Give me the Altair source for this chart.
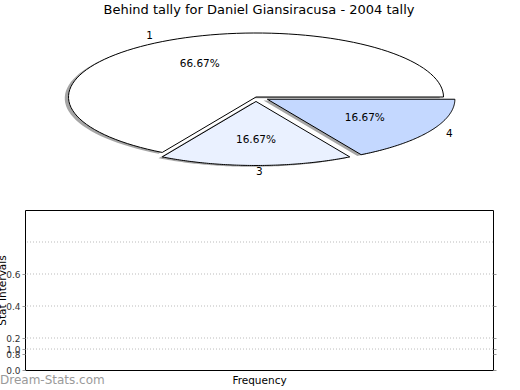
import altair as alt
import pandas as pd

# ---- data ----
slice_labels = ["1", "3", "4"]
slice_counts = [4, 1, 1]
slice_colors = ["#ffffff", "#eaf1ff", "#c4d8ff"]
slice_explode = [0.0, 0.07, 0.07]

title_text = "Behind tally for Daniel Giansiracusa - 2004 tally"
x_title = "Frequency"
y_title = "Stat Intervals"
watermark = "Dream-Stats.com"

y_tick_values = [0.0, 0.1, 0.131, 0.2, 0.4, 0.6]
y_tick_labels = ["0.0", "0.8", "1.0", "0.2", "0.4", "0.6"]
y_grid_values = [0.131, 0.2, 0.4, 0.6, 0.8]

N = 90  # arc resolution
FONT = "DejaVu Sans"

pie_df = pd.DataFrame({
    "label": slice_labels,
    "count": slice_counts,
    "color": slice_colors,
    "explode": slice_explode,
    "order": list(range(len(slice_labels))),
    "k": [list(range(-1, N + 1)) for _ in slice_labels],
})

# plot geometry (bottom panel is the view; pie drawn above it via explicit ranges)
W, H = 468, 160
PAD = {"left": 25, "top": 210, "right": 27, "bottom": 20}
cx, cy = 256 - PAD["left"], 97 - PAD["top"]
rx, ry = 187.5, 64

xs = alt.Scale(domain=[-1, 1], range=[cx - rx, cx + rx], nice=False, zero=False)
ys = alt.Scale(domain=[-1, 1], range=[cy + ry, cy - ry], nice=False, zero=False)

base = (
    alt.Chart(pie_df)
    .transform_joinaggregate(total="sum(count)")
    .transform_window(cum="sum(count)", sort=[alt.SortField("order")], frame=[None, 0])
    .transform_calculate(t0="(datum.cum - datum.count) / datum.total")
    .transform_calculate(t1="datum.cum / datum.total")
    .transform_calculate(mid="PI * (datum.t0 + datum.t1)")
    .transform_calculate(ox="datum.explode * cos(datum.mid)")
    .transform_calculate(oy="datum.explode * sin(datum.mid)")
    .transform_calculate(pct="format(100 * datum.count / datum.total, '.2f') + '%'")
)

poly = (
    base.transform_flatten(["k"])
    .transform_calculate(a=f"2 * PI * (datum.t0 + (datum.t1 - datum.t0) * max(datum.k, 0) / {N})")
    .transform_calculate(px="datum.ox + (datum.k < 0 ? 0 : cos(datum.a))")
    .transform_calculate(py="datum.oy + (datum.k < 0 ? 0 : sin(datum.a))")
    .transform_calculate(sx="datum.px - 0.02")
    .transform_calculate(sy="datum.py - 0.02")
)

shadow = poly.mark_line(
    interpolate="linear-closed", fill="#4d4d4d", fillOpacity=0.5, strokeOpacity=0
).encode(
    x=alt.X("sx:Q", scale=xs, axis=None),
    y=alt.Y("sy:Q", scale=ys, axis=None),
    order="k:Q",
    detail="label:N",
)

wedges = poly.mark_line(
    interpolate="linear-closed", stroke="black", strokeWidth=1, strokeJoin="miter"
).encode(
    x=alt.X("px:Q", scale=xs, axis=None),
    y=alt.Y("py:Q", scale=ys, axis=None),
    order="k:Q",
    detail="label:N",
    fill=alt.Fill("color:N", scale=None),
)

outer = base.transform_calculate(
    lx="datum.ox + 1.1 * cos(datum.mid)"
).transform_calculate(
    ly="datum.oy + 1.1 * sin(datum.mid)"
)

lab_enc = dict(
    x=alt.X("lx:Q", scale=xs, axis=None),
    y=alt.Y("ly:Q", scale=ys, axis=None),
    text="label:N",
)
labels_right = outer.transform_filter("cos(datum.mid) < -1e-9").mark_text(
    align="right", baseline="middle", font=FONT, fontSize=10.5, color="black"
).encode(**lab_enc)
labels_left = outer.transform_filter("cos(datum.mid) >= -1e-9").mark_text(
    align="left", baseline="middle", font=FONT, fontSize=10.5, color="black"
).encode(**lab_enc)

pcts = base.transform_calculate(
    qx="datum.ox + 0.6 * cos(datum.mid)"
).transform_calculate(
    qy="datum.oy + 0.6 * sin(datum.mid)"
).mark_text(
    align="center", baseline="middle", font=FONT, fontSize=10.5, color="black"
).encode(
    x=alt.X("qx:Q", scale=xs, axis=None),
    y=alt.Y("qy:Q", scale=ys, axis=None),
    text="pct:N",
)

# ---- bottom panel ----
label_expr = " : ".join(
    f"datum.value == {v} ? '{l}'" for v, l in zip(y_tick_values, y_tick_labels)
) + " : ''"

frame_df = pd.DataFrame({"f": [0.5], "v": [0.5]})
ys_frame = alt.Scale(domain=[0, 1], nice=False, zero=False)

frame_left = alt.Chart(frame_df).mark_point(opacity=0).encode(
    x=alt.X(
        "f:Q",
        scale=alt.Scale(domain=[0, 1], nice=False),
        axis=alt.Axis(
            title=x_title, labels=False, ticks=False, domain=False, grid=False,
            titleFont=FONT, titleFontSize=10.5, titleFontWeight="normal",
            titleColor="black", titlePadding=5,
        ),
    ),
    y=alt.Y(
        "v:Q",
        scale=ys_frame,
        axis=alt.Axis(
            title=y_title, values=y_tick_values, labelExpr=label_expr,
            labelOverlap=False, labelFont=FONT, labelFontSize=9, labelColor="#333333",
            labelPadding=2, tickSize=3, tickColor="#999999", domain=False, grid=False,
            titleFont=FONT, titleFontSize=10.5, titleFontWeight="normal",
            titleColor="black", titleX=-18, orient="left",
        ),
    ),
)

frame_right = alt.Chart(frame_df).mark_point(opacity=0).encode(
    y=alt.Y(
        "v:Q",
        scale=ys_frame,
        axis=alt.Axis(
            values=y_tick_values, labels=False, tickSize=3, tickColor="#999999",
            domain=False, grid=False, title=None, orient="right",
        ),
    ),
)

grid = alt.Chart(pd.DataFrame({"g": y_grid_values})).mark_rule(
    color="#bbbbbb", strokeDash=[1, 2], strokeWidth=1
).encode(y=alt.Y("g:Q", scale=ys_frame, axis=None))

mark_df = pd.DataFrame({"t": [watermark]})
wm = alt.Chart(mark_df).mark_text(
    align="left", baseline="middle", font=FONT, fontSize=12, color="#9a9a9a"
).encode(x=alt.value(-PAD["left"]), y=alt.value(380 - PAD["top"]), text="t:N")

chart = (
    alt.layer(grid, frame_left, frame_right, shadow, wedges, labels_right, labels_left, pcts, wm)
    .resolve_scale(x="independent", y="independent")
    .properties(
        width=W,
        height=H,
        padding=PAD,
        autosize=alt.AutoSizeParams(type="none"),
        background="white",
        title=alt.TitleParams(
            text=title_text, font=FONT, fontSize=13, fontWeight="normal",
            color="black", anchor="middle", frame="group", offset=14,
        ),
    )
    .configure_view(stroke="black", strokeWidth=1)
)

chart.save("out.html", embed_options={"renderer": "svg", "actions": False})
